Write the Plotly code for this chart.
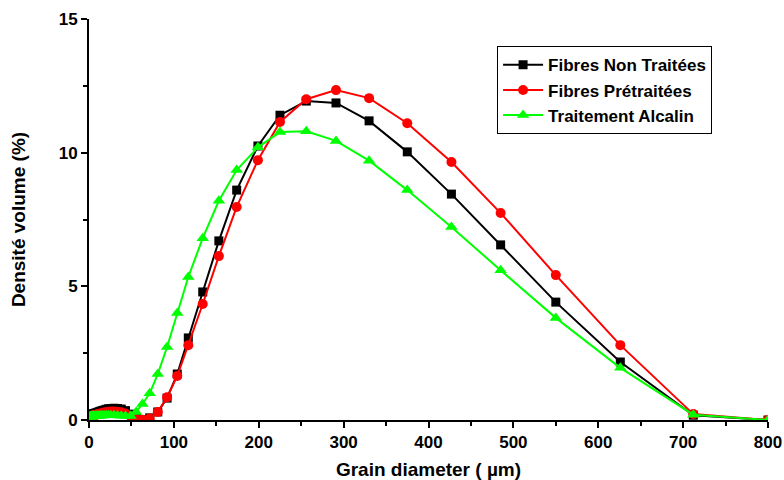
import plotly.graph_objects as go

grain_diameter = [1.0, 1.5, 2.0, 2.3, 2.6, 3.0, 3.4, 3.9, 4.4, 5.0, 5.7, 6.5, 7.3, 8.3, 9.5, 10.7,
                  12.2, 13.8, 15.7, 17.8, 20.2, 23.0, 26.0, 29.5, 33.5, 38.0, 43.0, 49.0, 55.5,
                  63.0, 71.5, 81.0, 92.0, 104.0, 117.0, 134.0, 153.0, 174.0, 199.0, 225.0, 256.0,
                  291.0, 330.0, 375.0, 427.0, 485.0, 550.0, 626.0, 712.0, 800.0]

fibres_non_traitees = [0.15, 0.17, 0.18, 0.19, 0.20, 0.20, 0.21, 0.21, 0.22, 0.22, 0.23, 0.24, 0.25,
                       0.26, 0.27, 0.29, 0.31, 0.33, 0.35, 0.37, 0.40, 0.42, 0.43, 0.44, 0.43, 0.41,
                       0.35, 0.22, 0.06, 0.02, 0.08, 0.30, 0.82, 1.72, 3.07, 4.79, 6.70, 8.60, 10.25,
                       11.40, 11.93, 11.86, 11.19, 10.03, 8.45, 6.55, 4.41, 2.17, 0.18, 0.0]

fibres_pretraitees = [0.12, 0.13, 0.14, 0.14, 0.15, 0.15, 0.16, 0.16, 0.17, 0.17, 0.18, 0.18, 0.19,
                      0.20, 0.21, 0.22, 0.23, 0.24, 0.26, 0.28, 0.29, 0.31, 0.32, 0.32, 0.31, 0.29,
                      0.24, 0.14, 0.03, 0.01, 0.06, 0.30, 0.85, 1.65, 2.80, 4.34, 6.13, 7.97, 9.72,
                      11.15, 12.00, 12.34, 12.04, 11.10, 9.65, 7.74, 5.42, 2.80, 0.22, 0.0]

traitement_alcalin = [0.12, 0.12, 0.13, 0.13, 0.13, 0.13, 0.14, 0.14, 0.14, 0.14, 0.15, 0.15, 0.15,
                      0.15, 0.16, 0.16, 0.16, 0.17, 0.17, 0.17, 0.18, 0.18, 0.18, 0.18, 0.17, 0.16,
                      0.15, 0.15, 0.30, 0.60, 1.00, 1.72, 2.73, 4.00, 5.35, 6.80, 8.20, 9.35, 10.20,
                      10.77, 10.80, 10.44, 9.70, 8.60, 7.22, 5.60, 3.82, 1.95, 0.20, 0.0]

series = [
    ("Fibres Non Traitées", fibres_non_traitees, "#000000", "square", 9),
    ("Fibres Prétraitées", fibres_pretraitees, "#ff0000", "circle", 10),
    ("Traitement Alcalin", traitement_alcalin, "#00ff00", "triangle-up", 11),
]

fig = go.Figure()
for name, vals, color, symbol, size in series:
    fig.add_trace(go.Scatter(
        x=grain_diameter, y=vals, name=name, mode="lines+markers",
        line=dict(color=color, width=2),
        marker=dict(symbol=symbol, size=size, color=color),
    ))

font_family = "Liberation Sans, Arial, sans-serif"
tickfont = dict(family=font_family, size=17, color="black", weight="bold")
titlefont = dict(family=font_family, size=19, color="black", weight="bold")

common = dict(showgrid=False, zeroline=False, linecolor="black", linewidth=2,
              tickwidth=2, tickcolor="black", automargin=False)

fig.update_layout(
    width=784, height=480,
    margin=dict(l=89, r=16, t=19, b=60),
    plot_bgcolor="white", paper_bgcolor="white",
    xaxis=dict(range=[0, 800], dtick=100, tick0=0, ticks="outside", ticklen=6,
               tickfont=tickfont,
               minor=dict(dtick=50, ticks="outside", ticklen=4, tickwidth=1.5, tickcolor="black"),
               title=dict(text="Grain diameter ( µm)", font=titlefont, standoff=12),
               **common),
    yaxis=dict(range=[0, 15], dtick=5, tick0=0, ticks="outside", ticklen=6,
               tickfont=tickfont,
               minor=dict(dtick=2.5, ticks="outside", ticklen=4, tickwidth=1.5, tickcolor="black"),
               title=dict(text="Densité volume (%)", font=titlefont, standoff=28),
               **common),
    xaxis2=dict(range=[0, 800], dtick=100, tick0=0, ticks="inside", ticklen=6,
                overlaying="x", side="top", showticklabels=False,
                minor=dict(dtick=50, ticks="inside", ticklen=4, tickwidth=1.5, tickcolor="black"),
                **common),
    yaxis2=dict(range=[0, 15], dtick=5, tick0=0, ticks="inside", ticklen=6,
                overlaying="y", side="right", showticklabels=False,
                minor=dict(dtick=2.5, ticks="inside", ticklen=4, tickwidth=1.5, tickcolor="black"),
                **common),
    legend=dict(x=0.601, y=0.932, xanchor="left", yanchor="top",
                bgcolor="white", bordercolor="black", borderwidth=1,
                font=dict(family=font_family, size=17, color="black", weight="bold"),
                tracegroupgap=0, itemwidth=40),
    showlegend=True,
)

# remove the default page margin so the 784x480 figure fills the window exactly
fig.write_html("out.html",
               config={"displayModeBar": False},
               post_script="document.body.style.margin='0px';document.body.style.overflow='hidden';")
